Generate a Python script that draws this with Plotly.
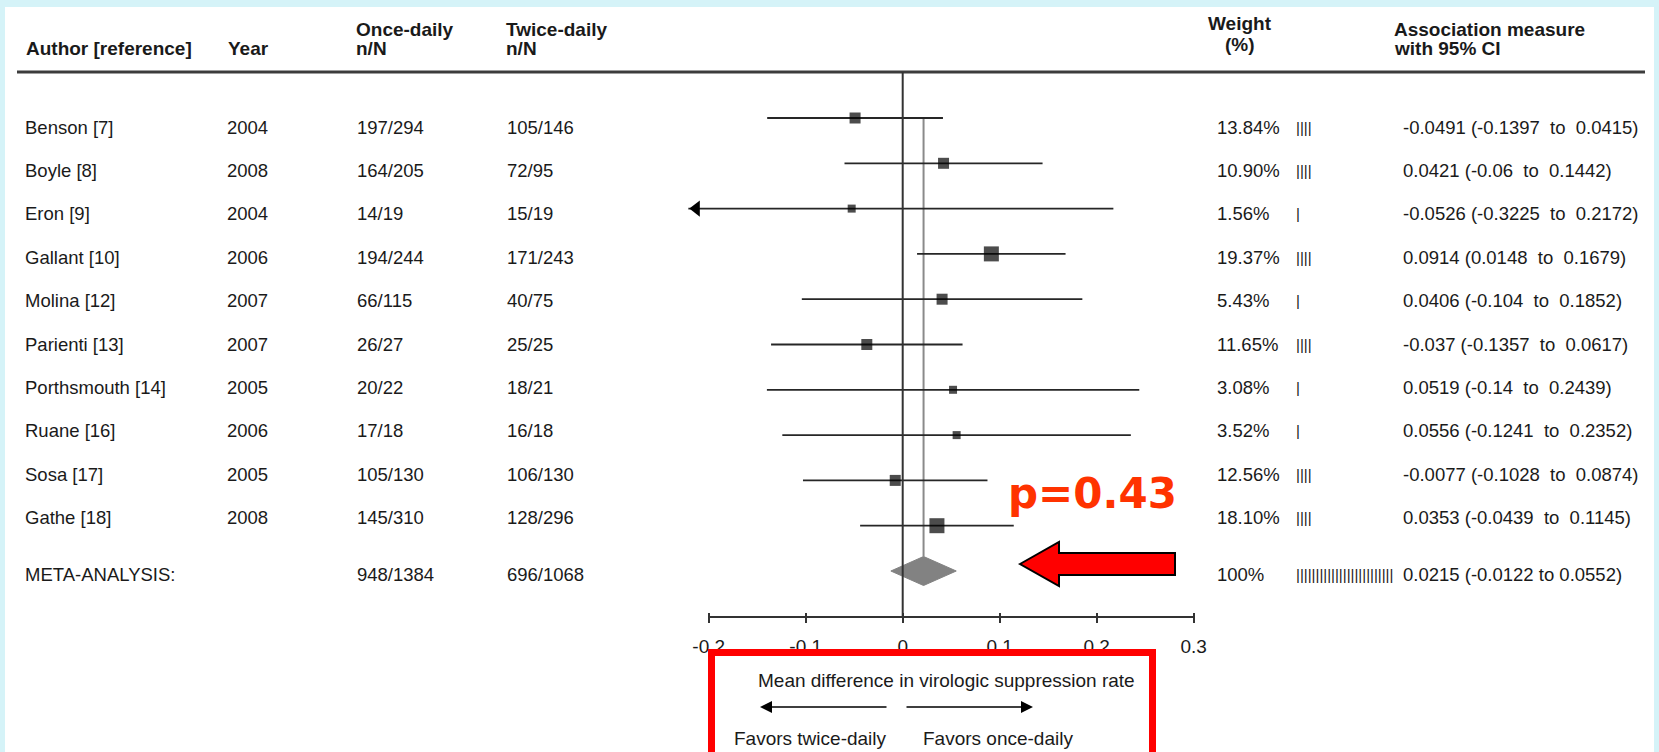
import plotly.graph_objects as go

# ---------------- data ----------------
authors = ["Benson [7]", "Boyle [8]", "Eron [9]", "Gallant [10]", "Molina [12]",
           "Parienti [13]", "Porthsmouth [14]", "Ruane [16]", "Sosa [17]", "Gathe [18]"]
years = [2004, 2008, 2004, 2006, 2007, 2007, 2005, 2006, 2005, 2008]
once_daily = ["197/294", "164/205", "14/19", "194/244", "66/115",
              "26/27", "20/22", "17/18", "105/130", "145/310"]
twice_daily = ["105/146", "72/95", "15/19", "171/243", "40/75",
               "25/25", "18/21", "16/18", "106/130", "128/296"]
weights = [13.84, 10.90, 1.56, 19.37, 5.43, 11.65, 3.08, 3.52, 12.56, 18.10]
estimates = [-0.0491, 0.0421, -0.0526, 0.0914, 0.0406, -0.037, 0.0519, 0.0556, -0.0077, 0.0353]
ci_low = [-0.1397, -0.06, -0.3225, 0.0148, -0.104, -0.1357, -0.14, -0.1241, -0.1028, -0.0439]
ci_high = [0.0415, 0.1442, 0.2172, 0.1679, 0.1852, 0.0617, 0.2439, 0.2352, 0.0874, 0.1145]

meta_label = "META-ANALYSIS:"
meta_once = "948/1384"
meta_twice = "696/1068"
meta_weight = "100%"
meta_est = 0.0215
meta_low = -0.0122
meta_high = 0.0552

tick_vals = [-0.2, -0.1, 0, 0.1, 0.2, 0.3]
tick_text = ["-0.2", "-0.1", "0", "0.1", "0.2", "0.3"]
p_text = "p=0.43"
x_title = "Mean difference in virologic suppression rate"
favors_left = "Favors twice-daily"
favors_right = "Favors once-daily"

# ---------------- layout geometry ----------------
W, H = 1659, 752
ZERO_PX = 902.7
PX_PER_UNIT = 970.0
ARROW_CLIP = -0.221          # CI truncated at this value (arrow drawn)
MARK_TOP, MARK_STEP = 118.0, 45.3
TEXT_TOP, TEXT_STEP = 127.0, 43.4


def X(px):
    return px / W


def Y(py):
    return 1 - py / H


n = len(authors)
rows = list(range(n))
meta_row = n

FONT = "Liberation Sans, Arial, sans-serif"
TXT = "#1a1a1a"
LINE = "#262626"
BODY = 18.5

fig = go.Figure()

# CI lines
for i in rows:
    lo = max(ci_low[i], ARROW_CLIP)
    fig.add_trace(go.Scatter(x=[lo, ci_high[i]], y=[i, i], mode="lines",
                             line=dict(color=LINE, width=1.8), hoverinfo="skip"))
# truncation arrows
arr_rows = [i for i in rows if ci_low[i] < ARROW_CLIP]
fig.add_trace(go.Scatter(x=[ARROW_CLIP + 8 / PX_PER_UNIT for _ in arr_rows], y=arr_rows,
                         mode="markers", marker=dict(symbol="triangle-left", size=14, color="black"),
                         hoverinfo="skip", cliponaxis=False))


def box_size(w):
    if w < 5:
        return 8
    if w < 15:
        return 11
    return 15


fig.add_trace(go.Scatter(x=estimates, y=rows, mode="markers",
                         marker=dict(symbol="square", size=[box_size(w) for w in weights],
                                     color="black", line=dict(width=0)),
                         hoverinfo="skip"))
# diamond
dh = 0.32
fig.add_trace(go.Scatter(x=[meta_low, meta_est, meta_high, meta_est, meta_low],
                         y=[meta_row, meta_row - dh, meta_row, meta_row + dh, meta_row],
                         mode="lines", fill="toself", fillcolor="#828282",
                         line=dict(color="#828282", width=1), hoverinfo="skip"))
# invisible trace on text axis
fig.add_trace(go.Scatter(x=[0], y=[0], yaxis="y2", mode="markers",
                         marker=dict(opacity=0), hoverinfo="skip"))

shapes = []
# white panel
shapes.append(dict(type="rect", xref="paper", yref="paper", x0=X(5), x1=X(1654), y0=Y(7), y1=Y(770),
                   fillcolor="white", line=dict(width=0), layer="below"))
# header rule
shapes.append(dict(type="line", xref="paper", yref="paper", x0=X(17), x1=X(1645), y0=Y(72), y1=Y(72),
                   line=dict(color="#3c3c3c", width=3)))
# pooled estimate line
shapes.append(dict(type="line", xref="x", yref="y", x0=meta_est, x1=meta_est, y0=0, y1=meta_row - dh,
                   line=dict(color="#8a8a8a", width=2), layer="below"))
# zero line
shapes.append(dict(type="line", xref="x", yref="paper", x0=0, x1=0, y0=Y(72), y1=Y(617),
                   line=dict(color="#333333", width=2)))
# axis line
shapes.append(dict(type="line", xref="x", yref="paper", x0=tick_vals[0], x1=tick_vals[-1],
                   y0=Y(617), y1=Y(617), line=dict(color="#333333", width=2)))
# red block arrow
pts = [(1020, 564), (1059, 542), (1059, 553), (1175, 553), (1175, 575), (1059, 575), (1059, 586)]
path = "M " + " L ".join(f"{X(a):.5f},{Y(b):.5f}" for a, b in pts) + " Z"
shapes.append(dict(type="path", xref="paper", yref="paper", path=path,
                   fillcolor="#ff0000", line=dict(color="black", width=2)))
# red box
shapes.append(dict(type="rect", xref="paper", yref="paper", x0=X(711.5), x1=X(1152.5),
                   y0=Y(652.5), y1=Y(790), fillcolor="white", line=dict(color="#ff0000", width=7)))

ann = []


def txt(x, y, s, yref="paper", size=BODY, anchor="left", bold=False, color=TXT, family=FONT):
    ann.append(dict(x=x, y=y, xref="paper", yref=yref, text=(f"<b>{s}</b>" if bold else s),
                    showarrow=False, xanchor=anchor, yanchor="middle",
                    font=dict(family=family, size=size, color=color)))


HS = 19
# headers
txt(X(24), Y(49), "Author [reference]", bold=True, size=HS)
txt(X(226), Y(49), "Year", bold=True, size=HS)
txt(X(354), Y(30), "Once-daily", bold=True, size=HS)
txt(X(354), Y(49), "n/N", bold=True, size=HS)
txt(X(504), Y(30), "Twice-daily", bold=True, size=HS)
txt(X(504), Y(49), "n/N", bold=True, size=HS)
txt(X(1240), Y(23), "Weight", bold=True, size=HS, anchor="center")
txt(X(1240), Y(44), "(%)", bold=True, size=HS, anchor="center")
txt(X(1392), Y(30), "Association measure", bold=True, size=HS)
txt(X(1392), Y(49), "with 95% CI", bold=True, size=HS)


def fmt(v):
    return f"{v:g}"


SP2 = "\u00a0 "
COLS = dict(author=23, year=225, once=355, twice=505, weight=1215, bars=1294, assoc=1401)
for i in rows:
    txt(X(COLS["author"]), i, authors[i], yref="y2")
    txt(X(COLS["year"]), i, str(years[i]), yref="y2")
    txt(X(COLS["once"]), i, once_daily[i], yref="y2")
    txt(X(COLS["twice"]), i, twice_daily[i], yref="y2")
    txt(X(COLS["weight"]), i, f"{weights[i]:.2f}%", yref="y2")
    txt(X(COLS["bars"]), i, "|" * (4 if weights[i] >= 10 else 1), yref="y2", size=15)
    txt(X(COLS["assoc"]), i, f"{fmt(estimates[i])} ({fmt(ci_low[i])}{SP2}to{SP2}{fmt(ci_high[i])})",
        yref="y2")

my = meta_row + 3 / MARK_STEP
txt(X(COLS["author"]), my, meta_label, yref="y")
txt(X(COLS["once"]), my, meta_once, yref="y")
txt(X(COLS["twice"]), my, meta_twice, yref="y")
txt(X(COLS["weight"]), my, meta_weight, yref="y")
txt(X(COLS["bars"]), my, "|" * 25, yref="y", size=15)
txt(X(COLS["assoc"]), my, f"{fmt(meta_est)} ({fmt(meta_low)} to {fmt(meta_high)})", yref="y")

# p-value
txt(X(1092), Y(493), p_text, size=42, anchor="center", bold=True, color="#ff3300",
    family="DejaVu Sans, sans-serif")

# bottom box
txt(X(946), Y(680), x_title, anchor="center", size=19)
txt(X(810), Y(738), favors_left, anchor="center", size=19)
txt(X(998), Y(738), favors_right, anchor="center", size=19)
for head, tail in [(760, 888), (1033, 905)]:
    ann.append(dict(x=X(head), y=Y(707), xref="paper", yref="paper", ax=tail - head, ay=0,
                    axref="pixel", ayref="pixel", text="", showarrow=True, arrowhead=2,
                    arrowsize=1.6, arrowwidth=1.5, arrowcolor="black", standoff=0, startstandoff=0))

fig.update_layout(
    width=W, height=H, margin=dict(l=0, r=0, t=0, b=0, pad=0),
    paper_bgcolor="#d5f3f8", plot_bgcolor="rgba(0,0,0,0)", showlegend=False,
    xaxis=dict(domain=[0, 1], range=[(0 - ZERO_PX) / PX_PER_UNIT, (W - ZERO_PX) / PX_PER_UNIT],
               showgrid=False, zeroline=False, showline=False,
               tickmode="array", tickvals=tick_vals, ticktext=tick_text,
               ticks="outside", ticklen=10, tickwidth=2, tickcolor="#333333",
               anchor="free", position=Y(612), ticklabelstandoff=7,
               tickfont=dict(family=FONT, size=19, color=TXT), fixedrange=True),
    yaxis=dict(domain=[0, 1], range=[(H - MARK_TOP) / MARK_STEP, -MARK_TOP / MARK_STEP],
               visible=False, fixedrange=True),
    yaxis2=dict(overlaying="y", range=[(H - TEXT_TOP) / TEXT_STEP, -TEXT_TOP / TEXT_STEP],
                visible=False, fixedrange=True),
    shapes=shapes, annotations=ann,
)

fig.write_html("out.html", config={"displayModeBar": False},
               post_script="document.body.style.margin='0';document.body.style.overflow='hidden';")
